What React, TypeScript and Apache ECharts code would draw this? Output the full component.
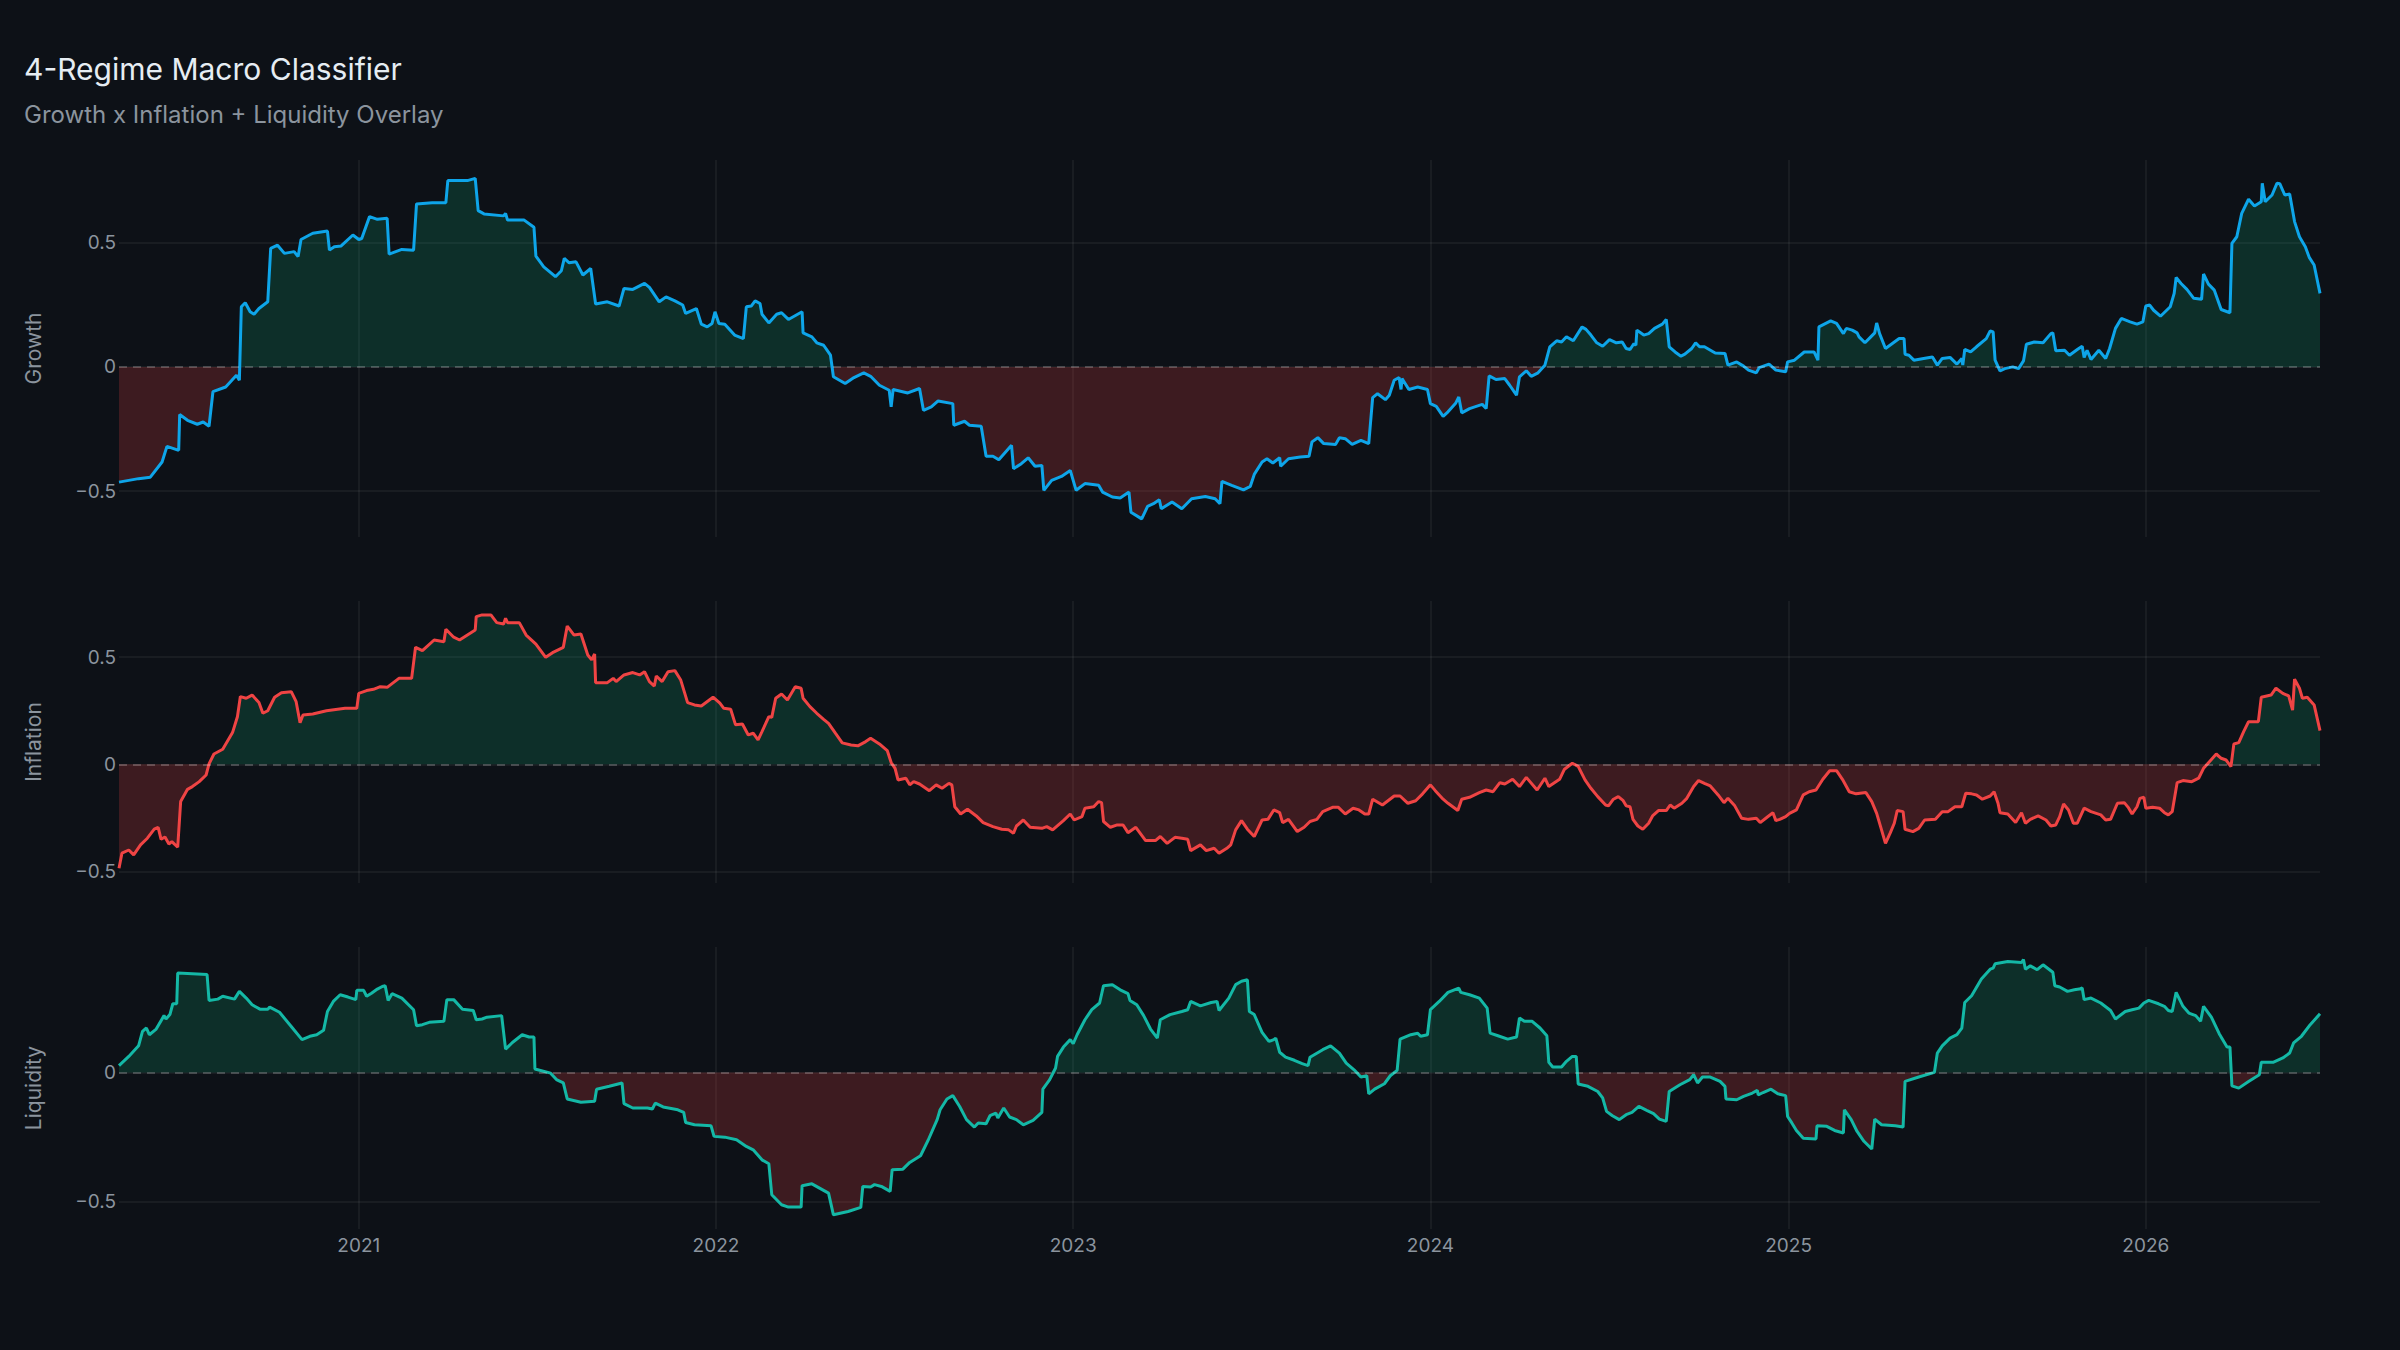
import { useEffect, useRef } from "react";
import * as echarts from "echarts";

// weekly-ish readings, [date, z-score]
const growthPoints: [string, number][] = [
  ["2020-05-01", -0.464], ["2020-05-21", -0.45], ["2020-06-02", -0.444], ["2020-06-14", -0.383],
  ["2020-06-19", -0.32], ["2020-07-01", -0.336], ["2020-07-02", -0.192], ["2020-07-10", -0.215],
  ["2020-07-20", -0.231], ["2020-07-26", -0.222], ["2020-08-01", -0.239], ["2020-08-05", -0.1],
  ["2020-08-18", -0.081], ["2020-08-29", -0.034], ["2020-09-01", -0.054], ["2020-09-03", 0.242],
  ["2020-09-07", 0.258], ["2020-09-12", 0.222], ["2020-09-16", 0.212], ["2020-09-21", 0.235],
  ["2020-09-30", 0.262], ["2020-10-03", 0.477], ["2020-10-10", 0.49], ["2020-10-17", 0.457],
  ["2020-10-27", 0.464], ["2020-10-31", 0.444], ["2020-11-03", 0.513], ["2020-11-15", 0.538],
  ["2020-11-30", 0.547], ["2020-12-02", 0.47], ["2020-12-07", 0.484], ["2020-12-14", 0.487],
  ["2020-12-26", 0.531], ["2021-01-01", 0.513], ["2021-01-04", 0.517], ["2021-01-12", 0.605],
  ["2021-01-20", 0.594], ["2021-01-30", 0.598], ["2021-02-01", 0.454], ["2021-02-14", 0.473],
  ["2021-02-26", 0.47], ["2021-03-01", 0.656], ["2021-03-17", 0.661], ["2021-03-31", 0.661],
  ["2021-04-02", 0.75], ["2021-04-22", 0.75], ["2021-04-30", 0.759], ["2021-05-03", 0.629],
  ["2021-05-09", 0.616], ["2021-05-29", 0.608], ["2021-05-31", 0.618], ["2021-06-02", 0.591],
  ["2021-06-19", 0.591], ["2021-06-29", 0.562], ["2021-07-01", 0.446], ["2021-07-09", 0.403],
  ["2021-07-21", 0.363], ["2021-07-27", 0.387], ["2021-07-30", 0.437], ["2021-08-04", 0.419],
  ["2021-08-11", 0.423], ["2021-08-18", 0.37], ["2021-08-26", 0.396], ["2021-08-31", 0.253],
  ["2021-09-12", 0.262], ["2021-09-24", 0.245], ["2021-09-29", 0.316], ["2021-10-08", 0.312],
  ["2021-10-20", 0.336], ["2021-10-25", 0.32], ["2021-11-04", 0.262], ["2021-11-11", 0.282],
  ["2021-11-20", 0.266], ["2021-11-28", 0.249], ["2021-12-01", 0.215], ["2021-12-12", 0.235],
  ["2021-12-17", 0.172], ["2021-12-23", 0.161], ["2021-12-28", 0.175], ["2021-12-31", 0.222],
  ["2022-01-04", 0.175], ["2022-01-10", 0.172], ["2022-01-20", 0.128], ["2022-01-29", 0.114],
  ["2022-02-01", 0.242], ["2022-02-06", 0.245], ["2022-02-10", 0.266], ["2022-02-15", 0.255],
  ["2022-02-17", 0.212], ["2022-02-24", 0.177], ["2022-03-04", 0.212], ["2022-03-09", 0.218],
  ["2022-03-16", 0.191], ["2022-03-30", 0.222], ["2022-03-31", 0.137], ["2022-04-09", 0.121],
  ["2022-04-14", 0.097], ["2022-04-21", 0.087], ["2022-04-28", 0.047], ["2022-05-01", -0.04],
  ["2022-05-13", -0.067], ["2022-05-22", -0.043], ["2022-06-01", -0.024], ["2022-06-08", -0.038],
  ["2022-06-17", -0.074], ["2022-06-27", -0.094], ["2022-06-29", -0.161], ["2022-07-01", -0.091],
  ["2022-07-16", -0.105], ["2022-07-28", -0.087], ["2022-08-01", -0.175], ["2022-08-09", -0.161],
  ["2022-08-16", -0.137], ["2022-08-31", -0.148], ["2022-09-01", -0.235], ["2022-09-12", -0.219],
  ["2022-09-17", -0.235], ["2022-09-29", -0.239], ["2022-10-04", -0.36], ["2022-10-11", -0.36],
  ["2022-10-17", -0.374], ["2022-10-30", -0.316], ["2022-11-01", -0.41], ["2022-11-09", -0.39],
  ["2022-11-16", -0.366], ["2022-11-23", -0.4], ["2022-11-30", -0.397], ["2022-12-02", -0.497],
  ["2022-12-10", -0.457], ["2022-12-20", -0.441], ["2022-12-29", -0.417], ["2023-01-04", -0.497],
  ["2023-01-13", -0.47], ["2023-01-27", -0.477], ["2023-01-31", -0.504], ["2023-02-10", -0.524],
  ["2023-02-18", -0.528], ["2023-02-27", -0.504], ["2023-03-01", -0.585], ["2023-03-12", -0.612],
  ["2023-03-18", -0.562], ["2023-03-24", -0.551], ["2023-03-30", -0.535], ["2023-04-01", -0.571],
  ["2023-04-12", -0.544], ["2023-04-22", -0.571], ["2023-05-02", -0.531], ["2023-05-16", -0.522],
  ["2023-05-26", -0.531], ["2023-05-31", -0.551], ["2023-06-02", -0.461], ["2023-06-12", -0.477],
  ["2023-06-24", -0.495], ["2023-07-01", -0.481], ["2023-07-05", -0.433], ["2023-07-13", -0.383],
  ["2023-07-18", -0.37], ["2023-07-24", -0.387], ["2023-07-31", -0.366], ["2023-08-01", -0.4],
  ["2023-08-09", -0.37], ["2023-08-21", -0.363], ["2023-08-30", -0.36], ["2023-09-02", -0.302],
  ["2023-09-08", -0.285], ["2023-09-14", -0.309], ["2023-09-26", -0.313], ["2023-09-30", -0.285],
  ["2023-10-06", -0.289], ["2023-10-13", -0.312], ["2023-10-22", -0.296], ["2023-10-30", -0.309],
  ["2023-11-03", -0.124], ["2023-11-08", -0.108], ["2023-11-16", -0.132], ["2023-11-20", -0.114],
  ["2023-11-25", -0.054], ["2023-11-30", -0.043], ["2023-12-02", -0.091], ["2023-12-03", -0.047],
  ["2023-12-10", -0.091], ["2023-12-19", -0.081], ["2023-12-29", -0.091], ["2024-01-01", -0.148],
  ["2024-01-07", -0.159], ["2024-01-14", -0.199], ["2024-01-19", -0.181], ["2024-01-27", -0.145],
  ["2024-01-30", -0.121], ["2024-02-02", -0.185], ["2024-02-10", -0.168], ["2024-02-23", -0.151],
  ["2024-02-27", -0.168], ["2024-03-01", -0.036], ["2024-03-08", -0.051], ["2024-03-17", -0.047],
  ["2024-03-22", -0.074], ["2024-03-29", -0.114], ["2024-04-01", -0.04], ["2024-04-08", -0.016],
  ["2024-04-13", -0.038], ["2024-04-20", -0.024], ["2024-04-27", 0.007], ["2024-05-02", 0.081],
  ["2024-05-09", 0.105], ["2024-05-14", 0.1], ["2024-05-19", 0.121], ["2024-05-26", 0.105],
  ["2024-06-04", 0.161], ["2024-06-08", 0.151], ["2024-06-13", 0.128], ["2024-06-19", 0.097],
  ["2024-06-25", 0.083], ["2024-07-02", 0.11], ["2024-07-09", 0.097], ["2024-07-15", 0.1],
  ["2024-07-19", 0.074], ["2024-07-23", 0.07], ["2024-07-27", 0.094], ["2024-07-29", 0.087],
  ["2024-07-30", 0.148], ["2024-08-06", 0.128], ["2024-08-11", 0.134], ["2024-08-17", 0.155],
  ["2024-08-25", 0.172], ["2024-08-29", 0.191], ["2024-09-01", 0.081], ["2024-09-07", 0.06],
  ["2024-09-13", 0.043], ["2024-09-17", 0.051], ["2024-09-24", 0.074], ["2024-09-28", 0.097],
  ["2024-10-02", 0.081], ["2024-10-07", 0.081], ["2024-10-18", 0.056], ["2024-10-28", 0.054],
  ["2024-10-31", 0.007], ["2024-11-09", 0.02], ["2024-11-16", 0.003], ["2024-11-21", -0.013],
  ["2024-11-29", -0.024], ["2024-12-02", -0.003], ["2024-12-12", 0.011], ["2024-12-19", -0.013],
  ["2024-12-29", -0.02], ["2024-12-31", 0.02], ["2025-01-07", 0.027], ["2025-01-17", 0.06],
  ["2025-01-27", 0.06], ["2025-01-31", 0.027], ["2025-02-01", 0.161], ["2025-02-13", 0.185],
  ["2025-02-19", 0.175], ["2025-02-26", 0.134], ["2025-03-01", 0.155], ["2025-03-07", 0.148],
  ["2025-03-12", 0.137], ["2025-03-14", 0.121], ["2025-03-20", 0.097], ["2025-03-26", 0.121],
  ["2025-03-30", 0.137], ["2025-04-01", 0.177], ["2025-04-04", 0.134], ["2025-04-10", 0.074],
  ["2025-04-17", 0.094], ["2025-04-24", 0.114], ["2025-04-29", 0.114], ["2025-04-30", 0.051],
  ["2025-05-04", 0.047], ["2025-05-09", 0.027], ["2025-05-19", 0.034], ["2025-05-28", 0.04],
  ["2025-06-02", 0.007], ["2025-06-07", 0.034], ["2025-06-15", 0.038], ["2025-06-22", 0.011],
  ["2025-06-27", 0.034], ["2025-06-28", 0.007], ["2025-06-30", 0.07], ["2025-07-06", 0.06],
  ["2025-07-12", 0.081], ["2025-07-22", 0.114], ["2025-07-26", 0.145], ["2025-07-29", 0.141],
  ["2025-07-31", 0.027], ["2025-08-05", -0.016], ["2025-08-10", -0.007], ["2025-08-18", 0.0],
  ["2025-08-24", -0.007], ["2025-08-29", 0.024], ["2025-09-01", 0.091], ["2025-09-09", 0.1],
  ["2025-09-18", 0.097], ["2025-09-26", 0.134], ["2025-09-28", 0.137], ["2025-10-01", 0.065],
  ["2025-10-10", 0.067], ["2025-10-15", 0.047], ["2025-10-23", 0.07], ["2025-10-28", 0.083],
  ["2025-10-30", 0.038], ["2025-11-02", 0.067], ["2025-11-06", 0.03], ["2025-11-14", 0.067],
  ["2025-11-21", 0.034], ["2025-11-25", 0.074], ["2025-12-01", 0.155], ["2025-12-07", 0.195],
  ["2025-12-16", 0.181], ["2025-12-23", 0.172], ["2025-12-29", 0.181], ["2026-01-01", 0.245],
  ["2026-01-05", 0.249], ["2026-01-09", 0.228], ["2026-01-16", 0.204], ["2026-01-26", 0.242],
  ["2026-01-30", 0.296], ["2026-02-01", 0.36], ["2026-02-06", 0.336], ["2026-02-12", 0.312],
  ["2026-02-19", 0.276], ["2026-02-27", 0.272], ["2026-03-01", 0.374], ["2026-03-06", 0.333],
  ["2026-03-12", 0.309], ["2026-03-19", 0.231], ["2026-03-28", 0.218], ["2026-03-30", 0.497],
  ["2026-04-04", 0.524], ["2026-04-09", 0.618], ["2026-04-16", 0.675], ["2026-04-22", 0.648],
  ["2026-04-29", 0.665], ["2026-04-30", 0.739], ["2026-05-03", 0.665], ["2026-05-10", 0.692],
  ["2026-05-15", 0.739], ["2026-05-18", 0.737], ["2026-05-23", 0.692], ["2026-05-28", 0.696],
  ["2026-06-02", 0.585], ["2026-06-07", 0.524], ["2026-06-13", 0.484], ["2026-06-17", 0.441],
  ["2026-06-22", 0.41], ["2026-06-28", 0.296],
];

const inflationPoints: [string, number][] = [
  ["2020-05-01", -0.485], ["2020-05-04", -0.415], ["2020-05-11", -0.4], ["2020-05-16", -0.423],
  ["2020-05-23", -0.376], ["2020-05-30", -0.345], ["2020-06-06", -0.303], ["2020-06-10", -0.294],
  ["2020-06-13", -0.35], ["2020-06-17", -0.339], ["2020-06-21", -0.372], ["2020-06-24", -0.361],
  ["2020-06-30", -0.387], ["2020-07-03", -0.174], ["2020-07-10", -0.117], ["2020-07-15", -0.104],
  ["2020-07-22", -0.081], ["2020-07-29", -0.05], ["2020-08-01", 0.002], ["2020-08-06", 0.048],
  ["2020-08-15", 0.07], ["2020-08-25", 0.148], ["2020-08-30", 0.222], ["2020-09-02", 0.316],
  ["2020-09-08", 0.308], ["2020-09-14", 0.323], ["2020-09-21", 0.288], ["2020-09-25", 0.238],
  ["2020-09-30", 0.25], ["2020-10-07", 0.313], ["2020-10-14", 0.334], ["2020-10-24", 0.339],
  ["2020-10-29", 0.292], ["2020-11-02", 0.194], ["2020-11-05", 0.23], ["2020-11-15", 0.235],
  ["2020-11-29", 0.25], ["2020-12-18", 0.261], ["2020-12-30", 0.261], ["2021-01-01", 0.331],
  ["2021-01-09", 0.344], ["2021-01-16", 0.35], ["2021-01-23", 0.362], ["2021-01-30", 0.359],
  ["2021-02-11", 0.401], ["2021-02-24", 0.401], ["2021-02-28", 0.546], ["2021-03-07", 0.53],
  ["2021-03-19", 0.58], ["2021-03-29", 0.572], ["2021-03-31", 0.63], ["2021-04-08", 0.593],
  ["2021-04-14", 0.58], ["2021-04-30", 0.627], ["2021-05-01", 0.689], ["2021-05-07", 0.697],
  ["2021-05-16", 0.697], ["2021-05-22", 0.661], ["2021-05-29", 0.655], ["2021-05-31", 0.681],
  ["2021-06-02", 0.661], ["2021-06-14", 0.661], ["2021-06-21", 0.603], ["2021-07-01", 0.561],
  ["2021-07-11", 0.499], ["2021-07-18", 0.521], ["2021-07-29", 0.546], ["2021-08-02", 0.645],
  ["2021-08-09", 0.603], ["2021-08-16", 0.608], ["2021-08-23", 0.51], ["2021-08-27", 0.487],
  ["2021-08-30", 0.515], ["2021-08-31", 0.381], ["2021-09-12", 0.381], ["2021-09-18", 0.401],
  ["2021-09-21", 0.386], ["2021-09-29", 0.417], ["2021-10-08", 0.428], ["2021-10-15", 0.417],
  ["2021-10-20", 0.432], ["2021-10-25", 0.386], ["2021-10-30", 0.365], ["2021-11-01", 0.412],
  ["2021-11-07", 0.386], ["2021-11-13", 0.432], ["2021-11-20", 0.437], ["2021-11-26", 0.393],
  ["2021-12-03", 0.288], ["2021-12-10", 0.277], ["2021-12-17", 0.272], ["2021-12-29", 0.313],
  ["2022-01-05", 0.285], ["2022-01-09", 0.261], ["2022-01-16", 0.257], ["2022-01-21", 0.184],
  ["2022-01-28", 0.188], ["2022-02-03", 0.137], ["2022-02-08", 0.145], ["2022-02-13", 0.114],
  ["2022-02-17", 0.152], ["2022-02-24", 0.222], ["2022-02-27", 0.219], ["2022-03-03", 0.308],
  ["2022-03-09", 0.328], ["2022-03-15", 0.3], ["2022-03-23", 0.362], ["2022-03-29", 0.355],
  ["2022-03-31", 0.308], ["2022-04-07", 0.269], ["2022-04-14", 0.238], ["2022-04-21", 0.21],
  ["2022-04-26", 0.191], ["2022-05-03", 0.145], ["2022-05-10", 0.1], ["2022-05-19", 0.09],
  ["2022-05-26", 0.086], ["2022-06-03", 0.106], ["2022-06-08", 0.121], ["2022-06-17", 0.095],
  ["2022-06-25", 0.064], ["2022-06-29", 0.008], ["2022-07-03", -0.019], ["2022-07-06", -0.073],
  ["2022-07-14", -0.065], ["2022-07-18", -0.096], ["2022-07-22", -0.081], ["2022-07-28", -0.092],
  ["2022-08-07", -0.123], ["2022-08-14", -0.096], ["2022-08-20", -0.112], ["2022-08-27", -0.089],
  ["2022-08-30", -0.096], ["2022-09-02", -0.198], ["2022-09-08", -0.232], ["2022-09-15", -0.21],
  ["2022-09-24", -0.241], ["2022-10-01", -0.272], ["2022-10-11", -0.291], ["2022-10-20", -0.303],
  ["2022-10-27", -0.306], ["2022-11-01", -0.322], ["2022-11-04", -0.288], ["2022-11-11", -0.26],
  ["2022-11-18", -0.294], ["2022-11-30", -0.299], ["2022-12-05", -0.291], ["2022-12-11", -0.306],
  ["2022-12-22", -0.263], ["2022-12-29", -0.232], ["2023-01-02", -0.26], ["2023-01-10", -0.244],
  ["2023-01-13", -0.205], ["2023-01-22", -0.198], ["2023-01-27", -0.174], ["2023-01-30", -0.179],
  ["2023-02-01", -0.267], ["2023-02-08", -0.294], ["2023-02-15", -0.283], ["2023-02-21", -0.283],
  ["2023-02-26", -0.319], ["2023-03-06", -0.294], ["2023-03-16", -0.356], ["2023-03-26", -0.356],
  ["2023-03-31", -0.337], ["2023-04-07", -0.369], ["2023-04-15", -0.341], ["2023-04-22", -0.345],
  ["2023-04-28", -0.35], ["2023-05-01", -0.403], ["2023-05-11", -0.376], ["2023-05-17", -0.403],
  ["2023-05-25", -0.392], ["2023-05-30", -0.415], ["2023-06-07", -0.392], ["2023-06-11", -0.376],
  ["2023-06-16", -0.306], ["2023-06-22", -0.263], ["2023-06-28", -0.303], ["2023-07-05", -0.337],
  ["2023-07-13", -0.26], ["2023-07-19", -0.257], ["2023-07-25", -0.213], ["2023-07-31", -0.226],
  ["2023-08-03", -0.272], ["2023-08-09", -0.257], ["2023-08-18", -0.314], ["2023-08-25", -0.294],
  ["2023-08-31", -0.267], ["2023-09-07", -0.257], ["2023-09-13", -0.221], ["2023-09-23", -0.201],
  ["2023-09-29", -0.201], ["2023-10-06", -0.232], ["2023-10-14", -0.205], ["2023-10-20", -0.213],
  ["2023-10-26", -0.232], ["2023-10-30", -0.232], ["2023-11-03", -0.163], ["2023-11-13", -0.19],
  ["2023-11-25", -0.148], ["2023-12-01", -0.148], ["2023-12-09", -0.182], ["2023-12-17", -0.17],
  ["2023-12-24", -0.138], ["2024-01-01", -0.096], ["2024-01-06", -0.123], ["2024-01-14", -0.163],
  ["2024-01-19", -0.182], ["2024-01-29", -0.216], ["2024-02-02", -0.163], ["2024-02-10", -0.154],
  ["2024-02-20", -0.132], ["2024-02-27", -0.12], ["2024-03-05", -0.128], ["2024-03-12", -0.086],
  ["2024-03-17", -0.092], ["2024-03-25", -0.07], ["2024-04-01", -0.104], ["2024-04-08", -0.061],
  ["2024-04-19", -0.12], ["2024-04-27", -0.065], ["2024-05-01", -0.104], ["2024-05-12", -0.07],
  ["2024-05-17", -0.023], ["2024-05-25", 0.005], ["2024-05-31", -0.01], ["2024-06-07", -0.073],
  ["2024-06-13", -0.112], ["2024-06-20", -0.151], ["2024-06-28", -0.19], ["2024-07-01", -0.194],
  ["2024-07-06", -0.163], ["2024-07-11", -0.151], ["2024-07-16", -0.17], ["2024-07-19", -0.194],
  ["2024-07-23", -0.198], ["2024-07-26", -0.257], ["2024-07-31", -0.288], ["2024-08-05", -0.303],
  ["2024-08-11", -0.275], ["2024-08-15", -0.241], ["2024-08-21", -0.216], ["2024-08-29", -0.216],
  ["2024-09-02", -0.19], ["2024-09-06", -0.205], ["2024-09-14", -0.182], ["2024-09-19", -0.159],
  ["2024-09-26", -0.104], ["2024-10-01", -0.076], ["2024-10-07", -0.089], ["2024-10-13", -0.101],
  ["2024-10-21", -0.143], ["2024-10-27", -0.179], ["2024-10-31", -0.159], ["2024-11-07", -0.194],
  ["2024-11-14", -0.252], ["2024-11-21", -0.257], ["2024-11-29", -0.252], ["2024-12-03", -0.272],
  ["2024-12-10", -0.247], ["2024-12-16", -0.226], ["2024-12-19", -0.263], ["2024-12-23", -0.257],
  ["2024-12-29", -0.244], ["2025-01-02", -0.229], ["2025-01-09", -0.213], ["2025-01-16", -0.143],
  ["2025-01-22", -0.128], ["2025-01-29", -0.12], ["2025-02-05", -0.07], ["2025-02-12", -0.03],
  ["2025-02-19", -0.03], ["2025-02-25", -0.07], ["2025-03-04", -0.128], ["2025-03-11", -0.138],
  ["2025-03-21", -0.132], ["2025-03-27", -0.174], ["2025-04-01", -0.229], ["2025-04-05", -0.291],
  ["2025-04-10", -0.369], ["2025-04-15", -0.319], ["2025-04-19", -0.275], ["2025-04-22", -0.216],
  ["2025-04-28", -0.221], ["2025-04-30", -0.303], ["2025-05-08", -0.314], ["2025-05-14", -0.299],
  ["2025-05-20", -0.26], ["2025-05-31", -0.257], ["2025-06-07", -0.221], ["2025-06-13", -0.221],
  ["2025-06-20", -0.198], ["2025-06-27", -0.198], ["2025-07-01", -0.135], ["2025-07-07", -0.138],
  ["2025-07-12", -0.143], ["2025-07-18", -0.163], ["2025-07-26", -0.148], ["2025-07-30", -0.128],
  ["2025-08-03", -0.182], ["2025-08-05", -0.226], ["2025-08-13", -0.232], ["2025-08-21", -0.272],
  ["2025-08-27", -0.226], ["2025-08-31", -0.275], ["2025-09-05", -0.257], ["2025-09-13", -0.241],
  ["2025-09-21", -0.26], ["2025-09-26", -0.288], ["2025-10-01", -0.283], ["2025-10-05", -0.244],
  ["2025-10-09", -0.185], ["2025-10-14", -0.213], ["2025-10-19", -0.275], ["2025-10-23", -0.275],
  ["2025-10-30", -0.205], ["2025-11-06", -0.221], ["2025-11-16", -0.236], ["2025-11-21", -0.26],
  ["2025-11-26", -0.257], ["2025-12-03", -0.182], ["2025-12-10", -0.179], ["2025-12-14", -0.201],
  ["2025-12-18", -0.232], ["2025-12-23", -0.198], ["2025-12-26", -0.159], ["2025-12-30", -0.154],
  ["2026-01-01", -0.205], ["2026-01-08", -0.201], ["2026-01-15", -0.205], ["2026-01-20", -0.226],
  ["2026-01-24", -0.236], ["2026-01-28", -0.221], ["2026-02-02", -0.086], ["2026-02-08", -0.076],
  ["2026-02-17", -0.081], ["2026-02-24", -0.065], ["2026-03-01", -0.019], ["2026-03-07", 0.012],
  ["2026-03-14", 0.048], ["2026-03-19", 0.028], ["2026-03-24", 0.02], ["2026-03-29", -0.011],
  ["2026-04-01", 0.095], ["2026-04-06", 0.101], ["2026-04-11", 0.152], ["2026-04-16", 0.199],
  ["2026-04-26", 0.199], ["2026-04-29", 0.313], ["2026-05-09", 0.323], ["2026-05-14", 0.355],
  ["2026-05-21", 0.331], ["2026-05-27", 0.319], ["2026-05-31", 0.253], ["2026-06-02", 0.397],
  ["2026-06-07", 0.355], ["2026-06-10", 0.308], ["2026-06-15", 0.313], ["2026-06-22", 0.277],
  ["2026-06-28", 0.157],
];

const liquidityPoints: [string, number][] = [
  ["2020-05-01", 0.026], ["2020-05-11", 0.062], ["2020-05-21", 0.103], ["2020-05-25", 0.159],
  ["2020-05-29", 0.172], ["2020-06-01", 0.146], ["2020-06-08", 0.168], ["2020-06-16", 0.22],
  ["2020-06-18", 0.207], ["2020-06-22", 0.224], ["2020-06-25", 0.266], ["2020-06-29", 0.266],
  ["2020-06-30", 0.385], ["2020-07-30", 0.379], ["2020-08-01", 0.279], ["2020-08-10", 0.284],
  ["2020-08-15", 0.295], ["2020-08-27", 0.284], ["2020-09-01", 0.314], ["2020-09-08", 0.288],
  ["2020-09-14", 0.262], ["2020-09-22", 0.245], ["2020-09-30", 0.245], ["2020-10-02", 0.253],
  ["2020-10-12", 0.233], ["2020-10-24", 0.178], ["2020-11-04", 0.127], ["2020-11-12", 0.14],
  ["2020-11-19", 0.146], ["2020-11-26", 0.163], ["2020-11-30", 0.236], ["2020-12-06", 0.275],
  ["2020-12-13", 0.301], ["2020-12-21", 0.292], ["2020-12-29", 0.282], ["2020-12-30", 0.318],
  ["2021-01-06", 0.318], ["2021-01-09", 0.295], ["2021-01-14", 0.307], ["2021-01-20", 0.323],
  ["2021-01-25", 0.333], ["2021-01-28", 0.336], ["2021-01-31", 0.279], ["2021-02-04", 0.305],
  ["2021-02-14", 0.288], ["2021-02-26", 0.243], ["2021-03-01", 0.181], ["2021-03-07", 0.185],
  ["2021-03-14", 0.194], ["2021-03-29", 0.198], ["2021-04-01", 0.282], ["2021-04-08", 0.282],
  ["2021-04-17", 0.245], ["2021-04-28", 0.24], ["2021-05-01", 0.204], ["2021-05-07", 0.207],
  ["2021-05-12", 0.214], ["2021-05-27", 0.22], ["2021-05-31", 0.09], ["2021-06-07", 0.116],
  ["2021-06-17", 0.146], ["2021-06-24", 0.137], ["2021-06-29", 0.137], ["2021-06-30", 0.013],
  ["2021-07-16", -0.003], ["2021-07-22", -0.028], ["2021-07-29", -0.041], ["2021-08-02", -0.103],
  ["2021-08-16", -0.116], ["2021-08-30", -0.112], ["2021-09-01", -0.065], ["2021-09-14", -0.054],
  ["2021-09-27", -0.041], ["2021-09-29", -0.121], ["2021-10-08", -0.138], ["2021-10-23", -0.138],
  ["2021-10-28", -0.142], ["2021-10-31", -0.119], ["2021-11-08", -0.134], ["2021-11-23", -0.145],
  ["2021-11-29", -0.155], ["2021-12-01", -0.194], ["2021-12-10", -0.203], ["2021-12-27", -0.207],
  ["2021-12-30", -0.248], ["2022-01-10", -0.251], ["2022-01-22", -0.261], ["2022-02-01", -0.287],
  ["2022-02-08", -0.3], ["2022-02-17", -0.339], ["2022-02-24", -0.354], ["2022-02-27", -0.474],
  ["2022-03-09", -0.513], ["2022-03-16", -0.522], ["2022-03-29", -0.522], ["2022-03-30", -0.439],
  ["2022-04-09", -0.432], ["2022-04-26", -0.468], ["2022-05-01", -0.552], ["2022-05-16", -0.539],
  ["2022-05-29", -0.523], ["2022-05-31", -0.442], ["2022-06-08", -0.444], ["2022-06-12", -0.435],
  ["2022-06-19", -0.442], ["2022-06-28", -0.461], ["2022-06-30", -0.377], ["2022-07-11", -0.375],
  ["2022-07-18", -0.349], ["2022-07-29", -0.323], ["2022-08-06", -0.261], ["2022-08-15", -0.183],
  ["2022-08-18", -0.145], ["2022-08-25", -0.103], ["2022-08-31", -0.09], ["2022-09-07", -0.132],
  ["2022-09-14", -0.183], ["2022-09-22", -0.212], ["2022-09-26", -0.196], ["2022-10-04", -0.199],
  ["2022-10-08", -0.168], ["2022-10-14", -0.158], ["2022-10-16", -0.177], ["2022-10-22", -0.138],
  ["2022-10-28", -0.173], ["2022-11-04", -0.183], ["2022-11-11", -0.203], ["2022-11-21", -0.186],
  ["2022-11-30", -0.155], ["2022-12-01", -0.065], ["2022-12-08", -0.028], ["2022-12-14", 0.017],
  ["2022-12-16", 0.062], ["2022-12-22", 0.098], ["2022-12-29", 0.127], ["2023-01-01", 0.111],
  ["2023-01-05", 0.146], ["2023-01-13", 0.204], ["2023-01-20", 0.243], ["2023-01-28", 0.269],
  ["2023-02-01", 0.336], ["2023-02-10", 0.34], ["2023-02-18", 0.32], ["2023-02-26", 0.305],
  ["2023-02-28", 0.279], ["2023-03-07", 0.262], ["2023-03-14", 0.22], ["2023-03-21", 0.168],
  ["2023-03-28", 0.133], ["2023-03-31", 0.204], ["2023-04-10", 0.224], ["2023-04-22", 0.236],
  ["2023-04-28", 0.243], ["2023-05-01", 0.275], ["2023-05-11", 0.258], ["2023-05-22", 0.271],
  ["2023-05-28", 0.275], ["2023-05-30", 0.24], ["2023-06-09", 0.288], ["2023-06-16", 0.34],
  ["2023-06-22", 0.353], ["2023-06-28", 0.359], ["2023-06-30", 0.236], ["2023-07-05", 0.224],
  ["2023-07-13", 0.155], ["2023-07-20", 0.12], ["2023-07-25", 0.127], ["2023-07-27", 0.133],
  ["2023-07-31", 0.078], ["2023-08-06", 0.059], ["2023-08-15", 0.047], ["2023-08-23", 0.034],
  ["2023-08-29", 0.026], ["2023-08-31", 0.059], ["2023-09-13", 0.088], ["2023-09-21", 0.103],
  ["2023-09-30", 0.075], ["2023-10-07", 0.036], ["2023-10-15", 0.01], ["2023-10-22", -0.018],
  ["2023-10-28", -0.013], ["2023-10-30", -0.083], ["2023-11-05", -0.065], ["2023-11-15", -0.044],
  ["2023-11-21", -0.013], ["2023-11-28", 0.008], ["2023-12-01", 0.129], ["2023-12-12", 0.146],
  ["2023-12-19", 0.152], ["2023-12-22", 0.14], ["2023-12-29", 0.146], ["2024-01-01", 0.243],
  ["2024-01-10", 0.275], ["2024-01-19", 0.31], ["2024-01-30", 0.327], ["2024-02-01", 0.31],
  ["2024-02-10", 0.301], ["2024-02-20", 0.288], ["2024-02-28", 0.249], ["2024-03-02", 0.152],
  ["2024-03-10", 0.142], ["2024-03-20", 0.129], ["2024-03-29", 0.137], ["2024-04-01", 0.211],
  ["2024-04-06", 0.198], ["2024-04-14", 0.198], ["2024-04-22", 0.172], ["2024-04-29", 0.142],
  ["2024-05-01", 0.039], ["2024-05-05", 0.021], ["2024-05-14", 0.021], ["2024-05-19", 0.043],
  ["2024-05-25", 0.062], ["2024-05-29", 0.062], ["2024-05-31", -0.045], ["2024-06-10", -0.054],
  ["2024-06-20", -0.074], ["2024-06-25", -0.099], ["2024-06-29", -0.151], ["2024-07-05", -0.168],
  ["2024-07-12", -0.183], ["2024-07-19", -0.164], ["2024-07-25", -0.155], ["2024-08-01", -0.132],
  ["2024-08-09", -0.147], ["2024-08-16", -0.16], ["2024-08-22", -0.181], ["2024-08-29", -0.19],
  ["2024-09-01", -0.074], ["2024-09-12", -0.048], ["2024-09-22", -0.028], ["2024-09-26", -0.009],
  ["2024-09-30", -0.041], ["2024-10-05", -0.018], ["2024-10-13", -0.018], ["2024-10-23", -0.035],
  ["2024-10-28", -0.054], ["2024-10-29", -0.103], ["2024-11-09", -0.106], ["2024-11-16", -0.093],
  ["2024-11-25", -0.08], ["2024-11-30", -0.07], ["2024-12-01", -0.087], ["2024-12-06", -0.078],
  ["2024-12-14", -0.065], ["2024-12-21", -0.083], ["2024-12-29", -0.09], ["2024-12-31", -0.171],
  ["2025-01-04", -0.194], ["2025-01-09", -0.225], ["2025-01-16", -0.255], ["2025-01-29", -0.258],
  ["2025-01-30", -0.207], ["2025-02-09", -0.209], ["2025-02-17", -0.225], ["2025-02-26", -0.235],
  ["2025-02-27", -0.145], ["2025-03-06", -0.183], ["2025-03-12", -0.229], ["2025-03-19", -0.267],
  ["2025-03-27", -0.297], ["2025-03-30", -0.181], ["2025-04-06", -0.203], ["2025-04-20", -0.207],
  ["2025-04-28", -0.212], ["2025-04-30", -0.035], ["2025-05-14", -0.018], ["2025-05-30", 0.0],
  ["2025-06-02", 0.075], ["2025-06-07", 0.103], ["2025-06-15", 0.133], ["2025-06-22", 0.146],
  ["2025-06-27", 0.172], ["2025-06-30", 0.271], ["2025-07-07", 0.297], ["2025-07-17", 0.362],
  ["2025-07-26", 0.4], ["2025-07-29", 0.404], ["2025-07-31", 0.421], ["2025-08-13", 0.43],
  ["2025-08-27", 0.426], ["2025-08-29", 0.437], ["2025-08-31", 0.4], ["2025-09-05", 0.413],
  ["2025-09-12", 0.398], ["2025-09-18", 0.417], ["2025-09-28", 0.388], ["2025-09-30", 0.336],
  ["2025-10-05", 0.331], ["2025-10-13", 0.314], ["2025-10-20", 0.32], ["2025-10-25", 0.323],
  ["2025-10-28", 0.327], ["2025-10-30", 0.282], ["2025-11-06", 0.288], ["2025-11-16", 0.269],
  ["2025-11-26", 0.24], ["2025-12-01", 0.207], ["2025-12-11", 0.236], ["2025-12-18", 0.243],
  ["2025-12-25", 0.249], ["2025-12-30", 0.269], ["2026-01-04", 0.279], ["2026-01-14", 0.266],
  ["2026-01-20", 0.256], ["2026-01-24", 0.24], ["2026-01-28", 0.236], ["2026-02-01", 0.31],
  ["2026-02-08", 0.256], ["2026-02-14", 0.23], ["2026-02-21", 0.22], ["2026-02-26", 0.198],
  ["2026-03-01", 0.256], ["2026-03-09", 0.214], ["2026-03-17", 0.15], ["2026-03-25", 0.098],
  ["2026-03-28", 0.098], ["2026-03-30", -0.052], ["2026-04-06", -0.061], ["2026-04-16", -0.035],
  ["2026-04-27", -0.009], ["2026-04-29", 0.039], ["2026-05-11", 0.039], ["2026-05-21", 0.056],
  ["2026-05-28", 0.075], ["2026-06-01", 0.114], ["2026-06-09", 0.14], ["2026-06-18", 0.185],
  ["2026-06-28", 0.227],
];

const panelNames = ["Growth", "Inflation", "Liquidity"];
const lineColors = ["#0ea5e9", "#ef4444", "#14b8a6"];
const yMins = [-0.685, -0.554, -0.607];
const yMaxs = [0.833, 0.762, 0.486];

const BG = "#0d1117";
const MUTED = "#8b949e";
const GRID = "rgba(255,255,255,0.07)";
const FONT = "Inter, 'Noto Sans', sans-serif";

function fmtTick(v: number): string {
  if (v === 0) return "0";
  return (v < 0 ? "\u2212" : "") + String(Math.abs(v));
}

export default function App() {
  const ref = useRef<HTMLDivElement | null>(null);

  useEffect(() => {
    if (!ref.current) return;
    const chart = echarts.init(ref.current, null, { renderer: "svg" });

    const panels = [growthPoints, inflationPoints, liquidityPoints];
    const grids = [
      { left: 119, right: 80, top: 160, height: 377 },
      { left: 119, right: 80, top: 601, height: 282 },
      { left: 119, right: 80, top: 947, height: 282 },
    ];

    const xAxes = panels.map((_, i) => ({
      type: "time",
      gridIndex: i,
      min: +new Date(2020, 4, 1),
      max: +new Date(2026, 5, 28),
      minInterval: 365 * 24 * 3600 * 1000,
      axisLine: { show: false },
      axisTick: { show: false },
      axisLabel: {
        show: i === 2,
        formatter: "{yyyy}",
        color: MUTED,
        fontSize: 19,
        fontFamily: FONT,
        margin: 7,
      },
      splitLine: {
        show: true,
        showMinLine: false,
        showMaxLine: false,
        lineStyle: { color: GRID, width: 1.5 },
      },
    }));

    const yAxes = panels.map((_, i) => ({
      type: "value",
      gridIndex: i,
      min: yMins[i],
      max: yMaxs[i],
      minInterval: 0.5,
      maxInterval: 0.5,
      name: panelNames[i],
      nameLocation: "middle",
      nameGap: 75,
      nameTextStyle: { color: MUTED, fontSize: 21, fontFamily: FONT },
      axisLine: { show: false },
      axisTick: { show: false },
      axisLabel: {
        showMinLabel: false,
        showMaxLabel: false,
        formatter: fmtTick,
        color: MUTED,
        fontSize: 19,
        fontFamily: FONT,
        margin: 3,
      },
      splitLine: {
        showMinLine: false,
        showMaxLine: false,
        lineStyle: { color: GRID, width: 1.5 },
      },
    }));

    const series: any[] = [];
    panels.forEach((pts, i) => {
      series.push({
        type: "line",
        xAxisIndex: i,
        yAxisIndex: i,
        data: pts.map(([d, v]) => [d, Math.max(v, 0)]),
        showSymbol: false,
        lineStyle: { width: 0 },
        areaStyle: { color: "rgba(16,185,129,0.25)", origin: "auto" },
        silent: true,
        z: 1,
      });
      series.push({
        type: "line",
        xAxisIndex: i,
        yAxisIndex: i,
        data: pts.map(([d, v]) => [d, Math.min(v, 0)]),
        showSymbol: false,
        lineStyle: { width: 0 },
        areaStyle: { color: "rgba(239,68,68,0.3)", origin: "auto" },
        silent: true,
        z: 1,
      });
      series.push({
        name: panelNames[i],
        type: "line",
        xAxisIndex: i,
        yAxisIndex: i,
        data: pts,
        showSymbol: false,
        lineStyle: { width: 3, color: lineColors[i] },
        itemStyle: { color: lineColors[i] },
        z: 3,
        markLine: {
          silent: true,
          symbol: "none",
          label: { show: false },
          lineStyle: { type: [8, 6], color: "rgba(255,255,255,0.28)", width: 1.5 },
          data: [{ yAxis: 0 }],
        },
      });
    });

    chart.setOption({
      animation: false,
      backgroundColor: BG,
      textStyle: { fontFamily: FONT },
      title: [
        {
          text: "4-Regime Macro Classifier",
          left: 24,
          top: 54,
          padding: 0,
          textStyle: { color: "#e6edf3", fontSize: 30, fontWeight: "normal", fontFamily: FONT },
        },
        {
          text: "Growth x Inflation + Liquidity Overlay",
          left: 24,
          top: 102,
          padding: 0,
          textStyle: { color: MUTED, fontSize: 24, fontWeight: "normal", fontFamily: FONT },
        },
      ],
      grid: grids,
      xAxis: xAxes,
      yAxis: yAxes,
      series,
    });

    const onResize = () => chart.resize();
    window.addEventListener("resize", onResize);
    return () => {
      window.removeEventListener("resize", onResize);
      chart.dispose();
    };
  }, []);

  return (
    <div
      ref={ref}
      style={{ position: "fixed", left: 0, top: 0, width: "100vw", height: "100vh", background: BG }}
    />
  );
}
